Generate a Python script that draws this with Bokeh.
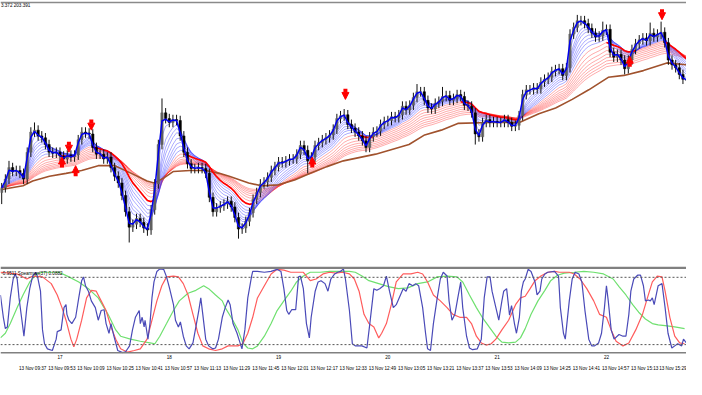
import numpy as np
from bokeh.plotting import figure
from bokeh.layouts import column
from bokeh.models import (Range1d, FixedTicker, LinearAxis, Span, Arrow,
                          NormalHead, ColumnDataSource)
from bokeh.core.properties import value
from bokeh.embed import file_html
from bokeh.resources import INLINE

# ---------------- data (times = minutes since midnight, 13 Nov) ----------------
bar_first_time = 568        # 09:28, 2-minute bars
bar_minutes = 2
first_open = 203.200

closes = [
    203.205, 203.214, 203.226, 203.222, 203.223, 203.220, 203.214, 203.242, 203.263, 203.265,
    203.259, 203.257, 203.250, 203.242, 203.241, 203.242, 203.238, 203.235, 203.239, 203.237,
    203.239, 203.255, 203.263, 203.262, 203.261, 203.247, 203.240, 203.240, 203.235, 203.237,
    203.226, 203.217, 203.210, 203.197, 203.180, 203.164, 203.167, 203.173, 203.169, 203.163,
    203.161, 203.182, 203.209, 203.250, 203.283, 203.277, 203.273, 203.276, 203.275, 203.259,
    203.242, 203.230, 203.225, 203.225, 203.226, 203.225, 203.220, 203.195, 203.180, 203.184,
    203.186, 203.188, 203.191, 203.185, 203.174, 203.162, 203.163, 203.170, 203.179, 203.193,
    203.200, 203.209, 203.211, 203.216, 203.223, 203.227, 203.232, 203.231, 203.233, 203.235,
    203.235, 203.240, 203.249, 203.244, 203.233, 203.237, 203.249, 203.252, 203.255, 203.257,
    203.260, 203.266, 203.277, 203.280, 203.281, 203.271, 203.267, 203.263, 203.259, 203.254,
    203.247, 203.258, 203.263, 203.264, 203.271, 203.274, 203.275, 203.279, 203.278, 203.281,
    203.290, 203.286, 203.291, 203.299, 203.305, 203.305, 203.296, 203.288, 203.287, 203.293,
    203.295, 203.300, 203.301, 203.296, 203.298, 203.302, 203.300, 203.291, 203.290, 203.283,
    203.261, 203.258, 203.273, 203.276, 203.273, 203.274, 203.273, 203.273, 203.276, 203.273,
    203.269, 203.270, 203.280, 203.302, 203.307, 203.307, 203.309, 203.308, 203.315, 203.318,
    203.320, 203.326, 203.328, 203.329, 203.322, 203.330, 203.365, 203.372, 203.379, 203.379,
    203.376, 203.371, 203.366, 203.362, 203.363, 203.369, 203.370, 203.346, 203.341, 203.344,
    203.338, 203.329, 203.338, 203.349, 203.355, 203.359, 203.361, 203.358, 203.366, 203.362,
    203.365, 203.367, 203.356, 203.338, 203.333, 203.330, 203.323, 203.318, 203.317,
]
# notable wick extremes (bar time -> price)
high_extremes = {572: 203.233, 586: 203.273, 656: 203.298, 756: 203.287, 796: 203.313,
                 810: 203.310, 884: 203.385, 898: 203.378, 924: 203.377, 930: 203.378}
low_extremes = {568: 203.188, 638: 203.148, 648: 203.155, 698: 203.152, 736: 203.220,
                768: 203.242, 828: 203.250, 910: 203.323}
typical_wick = 0.005

# slow brown moving average (read)
brown_ma = [(567.3, 203.203), (579.7, 203.207), (585.0, 203.212), (594.2, 203.217),
            (603.3, 203.220), (611.9, 203.223), (621.0, 203.228), (630.1, 203.228),
            (639.2, 203.220), (647.8, 203.212), (651.6, 203.210), (656.9, 203.215),
            (662.3, 203.222), (671.4, 203.223), (680.0, 203.223), (687.5, 203.220),
            (692.9, 203.217), (703.6, 203.210), (710.6, 203.207), (719.7, 203.208),
            (728.8, 203.213), (737.4, 203.220), (746.5, 203.227), (755.6, 203.233),
            (773.3, 203.240), (791.6, 203.250), (800.2, 203.260), (809.3, 203.265),
            (818.4, 203.272), (836.1, 203.273), (852.2, 203.273), (862.9, 203.282),
            (872.1, 203.288), (881.2, 203.297), (890.3, 203.307), (901.0, 203.320),
            (909.6, 203.322), (920.3, 203.327), (933.2, 203.335), (943.9, 203.333)]

fast_periods = [3, 5, 8, 10, 12, 15, 18, 21, 25]      # blue ribbon (minutes)
slow_periods = [30, 36, 42, 48, 54, 60, 66, 72]       # red ribbon (minutes)

sell_times = [604.9, 617.2, 756.7, 930.5]
sell_prices = [203.242, 203.265, 203.297, 203.380]
buy_times = [601.1, 608.6, 738.5, 912.8]
buy_prices = [203.237, 203.228, 203.237, 203.342]

header_text = "3.372 203.391"

# lower panel: Spearman lines
spear_fast = [
    (567.3, 0.38), (568.9, -0.15), (570.0, -0.42), (571.1, -0.38), (572.7, 0.31), (574.3, 0.76),
    (575.4, 0.88), (576.5, 0.76), (577.5, 0.31), (579.1, -0.22), (580.2, -0.60), (581.8, 0.08),
    (583.4, 0.53), (585.0, 0.83), (586.7, 0.92), (587.7, 0.81), (589.3, 0.47), (590.4, -0.45),
    (591.5, -0.78), (593.1, -0.90), (595.8, -0.94), (597.9, -0.67), (598.5, -0.49), (600.6, -0.45),
    (602.2, 0.08), (603.3, 0.15), (603.8, -0.08), (604.9, -0.22), (606.5, -0.30), (608.6, -0.15),
    (610.3, 0.31), (611.9, 0.72), (612.9, 0.81), (614.0, 0.60), (615.6, 0.47), (617.2, 0.24),
    (619.4, 0.08), (621.0, -0.22), (622.6, 0.01), (624.2, 0.03), (625.3, -0.30), (626.9, -0.53),
    (628.0, -0.30), (629.6, -0.60), (631.7, -0.94), (634.4, -0.99), (636.0, -0.97), (638.2, -0.83),
    (639.8, -0.45), (641.4, -0.15), (643.5, 0.01), (644.1, -0.30), (645.1, -0.15), (646.2, -0.38),
    (646.7, -0.22), (648.3, -0.67), (649.4, -0.30), (650.5, 0.31), (651.6, 0.69), (653.2, 0.94),
    (654.8, 1.00), (656.9, 0.99), (658.5, 0.81), (660.2, 0.53), (662.3, 0.15), (663.4, -0.22),
    (665.0, -0.38), (666.1, -0.26), (667.7, -0.60), (669.3, -0.83), (670.9, -0.90), (673.0, -0.76),
    (674.6, -0.38), (676.2, 0.01), (677.3, 0.31), (678.4, -0.08), (680.0, -0.67), (681.6, -0.83),
    (683.8, -0.90), (685.4, -0.88), (687.0, -0.67), (689.1, -0.15), (690.7, 0.08), (692.3, 0.26),
    (693.4, 0.15), (695.0, -0.30), (697.2, -0.53), (698.2, -0.67), (699.9, -0.90), (701.5, -0.45),
    (703.1, 0.31), (705.2, 0.83), (705.8, 0.94), (708.4, 0.94), (712.2, 0.92), (715.9, 0.94),
    (719.2, 0.99), (721.3, 0.94), (722.9, 0.53), (724.5, 0.01), (725.6, -0.08), (727.2, 0.03),
    (729.4, 0.03), (731.0, 0.81), (732.0, 0.83), (733.6, 0.53), (735.3, -0.30), (736.9, -0.64),
    (737.9, -0.15), (740.1, 0.47), (741.7, 0.69), (743.3, 0.72), (745.5, 0.65), (747.1, 0.47),
    (748.7, 0.76), (750.8, 0.88), (752.4, 0.92), (754.0, 0.94), (755.6, 1.00), (756.7, 0.76),
    (758.9, 0.01), (760.5, -0.78), (762.1, -0.83), (765.8, -0.83), (768.5, -0.88), (770.1, -0.30),
    (772.3, 0.53), (773.9, 0.49), (775.5, 0.53), (777.6, 0.60), (779.2, 0.83), (780.9, 0.47),
    (783.0, 0.08), (784.6, 0.15), (786.2, 0.31), (788.4, 0.53), (790.0, 0.47), (791.6, 0.65),
    (793.7, 0.60), (795.3, 0.65), (796.9, 0.60), (799.1, 0.08), (800.7, -0.53), (801.8, -0.90),
    (803.4, -0.94), (805.0, -0.30), (807.1, 0.31), (808.8, 0.76), (810.4, 0.92), (812.5, 0.83),
    (813.6, 0.24), (815.2, -0.22), (816.8, -0.08), (818.4, 0.31), (820.0, 0.69), (821.1, 0.08),
    (823.2, -0.60), (824.8, -0.88), (826.5, -0.92), (829.1, -0.90), (831.3, -0.67), (832.9, 0.31),
    (834.5, 0.81), (836.1, 0.81), (837.2, 0.47), (839.3, 0.08), (840.9, -0.22), (842.6, 0.24),
    (843.6, 0.47), (845.2, 0.53), (846.8, -0.10), (847.9, 0.13), (849.5, -0.30), (850.6, -0.53),
    (852.2, -0.15), (853.3, 0.47), (854.4, 0.69), (855.4, 0.76), (857.0, 0.99), (858.6, 0.94),
    (860.8, 0.69), (861.9, 0.38), (863.5, 0.47), (864.5, 0.76), (866.2, 0.88), (867.8, 0.92),
    (871.5, 0.94), (873.7, 0.83), (874.7, 0.08), (876.4, -0.53), (877.4, -0.67), (879.6, 0.24),
    (881.2, 0.76), (882.8, 0.92), (884.9, 0.88), (886.5, 0.69), (888.2, 0.01), (890.3, -0.67),
    (891.9, -0.83), (893.5, -0.83), (895.7, -0.76), (897.3, -0.53), (898.9, 0.08), (900.0, 0.60),
    (901.0, 0.24), (902.6, -0.45), (904.2, -0.67), (906.9, -0.56), (909.1, -0.60), (910.7, -0.60),
    (912.3, -0.08), (913.4, 0.47), (915.0, 0.76), (917.1, 0.85), (918.7, 0.85), (920.3, 0.60),
    (921.4, 0.24), (923.0, 0.26), (924.1, 0.24), (925.2, 0.31), (926.2, 0.15), (928.4, 0.60),
    (930.5, 0.65), (932.2, 0.08), (933.8, -0.53), (935.9, -0.88), (937.5, -0.83), (939.1, -0.78),
    (941.3, -0.83), (942.3, -0.67), (943.9, -0.76)]

spear_mid = [
    (567.3, 0.92), (576.5, 0.88), (581.8, 0.76), (585.0, 0.83), (590.4, 0.81), (595.2, 0.65),
    (598.5, 0.38), (601.1, 0.08), (603.3, -0.22), (606.0, -0.67), (607.6, -0.85), (609.2, -0.67),
    (611.9, -0.22), (614.6, 0.31), (617.2, 0.49), (619.9, 0.47), (622.6, 0.24), (625.3, 0.01),
    (628.0, -0.38), (630.6, -0.67), (633.3, -0.90), (637.1, -0.98), (640.8, -0.94), (644.1, -0.90),
    (647.8, -0.67), (650.5, -0.22), (653.2, 0.24), (655.9, 0.60), (658.5, 0.81), (662.3, 0.83),
    (665.0, 0.81), (667.7, 0.65), (670.3, 0.38), (673.0, -0.08), (675.7, -0.53), (678.4, -0.83),
    (681.6, -0.90), (685.4, -0.94), (689.1, -0.90), (692.3, -0.83), (697.7, -0.83), (700.4, -0.78),
    (703.1, -0.53), (705.8, -0.15), (708.4, 0.31), (712.2, 0.60), (715.9, 0.88), (719.2, 0.99),
    (722.9, 0.97), (726.7, 0.92), (729.9, 0.92), (733.6, 0.92), (737.4, 0.72), (740.6, 0.76),
    (744.4, 0.88), (748.1, 0.92), (751.4, 0.90), (755.1, 0.92), (758.9, 0.88), (761.6, 0.76),
    (764.2, 0.47), (766.9, -0.08), (769.6, -0.30), (772.3, -0.38), (775.0, -0.64), (776.6, -0.53),
    (779.2, -0.30), (781.9, 0.15), (784.6, 0.69), (788.4, 0.88), (792.7, 0.88), (796.4, 0.92),
    (799.1, 0.88), (801.8, 0.69), (805.0, 0.38), (808.8, 0.24), (812.5, 0.08), (815.7, -0.08),
    (819.5, -0.15), (823.2, -0.15), (825.9, -0.30), (828.6, -0.60), (831.3, -0.76), (834.0, -0.81),
    (836.7, -0.78), (839.3, -0.67), (842.6, -0.45), (846.3, -0.22), (850.1, 0.15), (852.8, 0.31),
    (855.4, 0.35), (858.1, 0.53), (860.8, 0.72), (864.0, 0.83), (867.8, 0.92), (871.5, 0.94),
    (874.2, 0.92), (879.6, 0.92), (882.3, 0.88), (885.5, 0.76), (889.2, 0.53), (893.0, 0.24),
    (896.2, -0.08), (900.0, -0.15), (902.6, -0.45), (905.3, -0.72), (909.1, -0.83), (912.3, -0.76),
    (916.1, -0.45), (919.8, -0.08), (922.5, 0.31), (925.2, 0.69), (927.9, 0.83), (930.5, 0.81),
    (932.2, 0.47), (934.8, -0.15), (937.5, -0.60), (940.2, -0.76), (942.9, -0.78)]

spear_slow = [
    (567.3, -0.64), (570.0, -0.53), (572.7, -0.30), (576.5, 0.08), (579.7, 0.38), (583.4, 0.69),
    (587.2, 0.88), (590.4, 0.92), (594.2, 0.92), (599.5, 0.92), (604.9, 0.81), (610.3, 0.69),
    (615.6, 0.53), (621.0, 0.31), (626.4, -0.08), (630.6, -0.45), (633.3, -0.60), (638.7, -0.67),
    (644.1, -0.72), (649.4, -0.76), (652.1, -0.78), (654.8, -0.60), (658.5, -0.30), (662.3, 0.01),
    (665.5, 0.24), (670.3, 0.42), (674.6, 0.49), (678.9, 0.60), (681.6, 0.53), (685.4, 0.38),
    (689.1, 0.24), (690.7, 0.08), (694.5, -0.19), (697.7, -0.45), (700.4, -0.76), (703.1, -0.88),
    (705.8, -0.90), (708.4, -0.83), (712.2, -0.60), (715.9, -0.30), (719.2, 0.01), (722.9, 0.24),
    (726.7, 0.47), (729.9, 0.69), (733.6, 0.83), (737.4, 0.92), (742.8, 0.92), (748.1, 0.94),
    (753.5, 0.94), (758.9, 0.94), (762.1, 0.92), (765.8, 0.83), (769.6, 0.72), (775.0, 0.65),
    (780.3, 0.58), (785.7, 0.53), (791.0, 0.55), (796.4, 0.65), (801.8, 0.69), (807.1, 0.81),
    (812.5, 0.83), (817.9, 0.81), (821.1, 0.69), (824.8, 0.38), (828.6, 0.08), (831.8, -0.15),
    (835.6, -0.38), (839.3, -0.60), (842.6, -0.74), (846.3, -0.76), (850.1, -0.74), (852.8, -0.64),
    (855.4, -0.42), (858.6, -0.08), (862.4, 0.24), (866.2, 0.49), (869.4, 0.72), (873.1, 0.85),
    (876.9, 0.90), (882.3, 0.92), (887.6, 0.94), (893.0, 0.92), (898.4, 0.88), (903.7, 0.76),
    (906.9, 0.58), (910.7, 0.38), (914.4, 0.15), (917.7, -0.03), (921.4, -0.19), (925.2, -0.30),
    (928.4, -0.33), (932.2, -0.35), (937.5, -0.38), (942.9, -0.42)]

spear_levels = [0.8, -0.8]
spear_label = "-0.9511  Spearman(37) 0.0882"

time_ticks = [577 + 16 * i for i in range(23)]
time_labels = ["13 Nov 09:37", "13 Nov 09:53", "13 Nov 10:09", "13 Nov 10:25",
               "13 Nov 10:41", "13 Nov 10:57", "13 Nov 11:13", "13 Nov 11:29", "13 Nov 11:45",
               "13 Nov 12:01", "13 Nov 12:17", "13 Nov 12:33", "13 Nov 12:49", "13 Nov 13:05",
               "13 Nov 13:21", "13 Nov 13:37", "13 Nov 13:53", "13 Nov 14:09", "13 Nov 14:25",
               "13 Nov 14:41", "13 Nov 14:57", "13 Nov 15:13", "13 Nov 15:29"]
hour_ticks = [600, 660, 720, 780, 840, 900]
hour_labels = ["17", "18", "19", "20", "21", "22"]

# ---------------- derived series ----------------
n = len(closes)
t = np.array([bar_first_time + bar_minutes * i for i in range(n)], dtype=float)
c = np.array(closes)
o = np.concatenate([[first_open], c[:-1]])
hi = np.maximum(o, c) + typical_wick
lo = np.minimum(o, c) - typical_wick
for i, tt in enumerate(t):
    if int(tt) in high_extremes:
        hi[i] = high_extremes[int(tt)]
    if int(tt) in low_extremes:
        lo[i] = low_extremes[int(tt)]


def ema(vals, minutes):
    a = 2.0 / (minutes / bar_minutes + 1.0)
    out, e = [], vals[0]
    for v in vals:
        e = e + a * (v - e)
        out.append(e)
    return np.array(out)


fast_emas = [ema(c, m) for m in fast_periods]
slow_emas = [ema(c, m) for m in slow_periods]

FONT = value("Liberation Sans")
xr = Range1d(567.34, 943.95)

# ---------------- main price panel ----------------
p1 = figure(width=686, height=266, x_range=xr, y_range=Range1d(203.123, 203.400),
            output_backend="svg", toolbar_location=None, x_axis_location=None,
            y_axis_location=None, min_border=0)
p1.outline_line_color = None
p1.grid.grid_line_color = None
p1.background_fill_color = "white"

for e in slow_emas:
    p1.line(t, e, line_color="#ff2020", line_alpha=0.42, line_width=0.9)
for e in fast_emas[1:]:
    p1.line(t, e, line_color="#2020ff", line_alpha=0.42, line_width=0.9)

bx, by = zip(*brown_ma)
p1.line(list(bx), list(by), line_color="#a0522d", line_width=1.6)

# thick red where the fast line is under the slow ribbon
bear = fast_emas[0] < slow_emas[0]
bear_ext = bear.copy()
bear_ext[:-1] |= bear[1:]
bear_ext[1:] |= bear[:-1]
red_thick = np.where(bear_ext, slow_emas[0], np.nan)
p1.line(t, red_thick, line_color="#ff0000", line_width=1.7)

bull = c >= o
body_cols = np.where(bull, "#606060", "#000000")
src = ColumnDataSource(dict(t=t, hi=hi, lo=lo, top=np.maximum(o, c), bot=np.minimum(o, c),
                            col=body_cols))
p1.segment(x0="t", y0="lo", x1="t", y1="hi", source=src, line_color="#111111", line_width=1)
p1.vbar(x="t", width=1.3, top="top", bottom="bot", source=src, fill_color="col",
        line_color="col", line_width=0.5)

p1.line(t, fast_emas[0], line_color="#0000ee", line_width=1.5)

ARROW_LEN = 0.011
sell_src = ColumnDataSource(dict(x=sell_times, y0=[v + ARROW_LEN for v in sell_prices], y1=sell_prices))
buy_src = ColumnDataSource(dict(x=buy_times, y0=[v - ARROW_LEN for v in buy_prices], y1=buy_prices))
for s in (sell_src, buy_src):
    p1.add_layout(Arrow(end=NormalHead(size=7, fill_color="#ff0000", line_color="#ff0000"),
                        source=s, x_start="x", y_start="y0", x_end="x", y_end="y1",
                        line_color="#ff0000", line_width=4))

p1.add_layout(Span(location=203.398, dimension="width", line_color="#8a8a8a", line_width=1.5))
p1.text(x=[567.6], y=[203.3945], text=[header_text], text_font=FONT, text_font_size="4.6px",
        text_baseline="middle", text_align="left", text_color="#000000")

# ---------------- lower Spearman panel ----------------
p2 = figure(width=686, height=113, x_range=xr, y_range=Range1d(-1.011, 1.057),
            output_backend="svg", toolbar_location=None, x_axis_location=None,
            y_axis_location=None, min_border_left=0, min_border_right=0,
            min_border_top=0, min_border_bottom=26)
p2.outline_line_color = None
p2.grid.grid_line_color = None

for lv in spear_levels:
    p2.add_layout(Span(location=lv, dimension="width", line_color="#555555",
                       line_dash="2 2", line_width=1))
p2.add_layout(Span(location=1.03, dimension="width", line_color="#808080", line_width=2.5))
p2.add_layout(Span(location=-1.0, dimension="width", line_color="#808080", line_width=2))

gx, gy = zip(*spear_slow)
p2.line(list(gx), list(gy), line_color="#6fe06f", line_width=1.2)
rx, ry = zip(*spear_mid)
p2.line(list(rx), list(ry), line_color="#ff5c5c", line_width=1.2)
fx, fy = zip(*spear_fast)
p2.line(list(fx), list(fy), line_color="#4a4ab8", line_width=1.2)

p2.text(x=[567.8], y=[0.9], text=[spear_label], text_font=FONT, text_font_size="4.6px",
        text_baseline="middle", text_align="left", text_color="#000000")

LABEL_SHIFT = 8   # MT4 prints the time label to the right of its tick
ax_hours = LinearAxis(ticker=FixedTicker(ticks=hour_ticks),
                      major_label_overrides={h: s for h, s in zip(hour_ticks, hour_labels)})
ax_times = LinearAxis(ticker=FixedTicker(ticks=[tt + LABEL_SHIFT for tt in time_ticks]),
                      major_label_overrides={tt + LABEL_SHIFT: s for tt, s in zip(time_ticks, time_labels)})
for ax, stand in ((ax_hours, 1), (ax_times, 4)):
    ax.axis_line_color = None
    ax.major_tick_line_color = None
    ax.minor_tick_line_color = None
    ax.major_tick_out = 0
    ax.major_tick_in = 0
    ax.minor_tick_out = 0
    ax.major_label_standoff = stand
    ax.major_label_text_font = "Liberation Sans"
    ax.major_label_text_font_size = "4.6px"
    ax.major_label_text_color = "#000000"
    p2.add_layout(ax, "below")

layout = column(p1, p2, spacing=0)
open("out.html", "w").write(file_html(layout, INLINE))
